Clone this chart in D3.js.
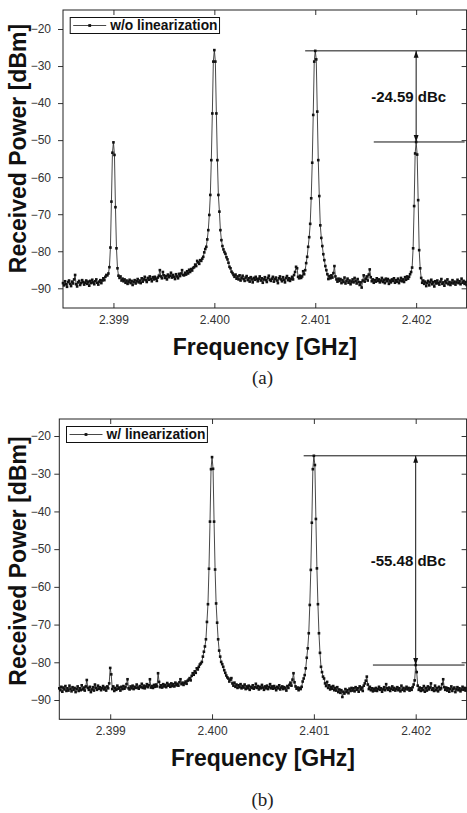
<!DOCTYPE html>
<html>
<head>
<meta charset="utf-8">
<script src="https://cdn.jsdelivr.net/npm/d3@7"></script>
<style>
  body { margin: 0; background: #fff; }
  text { font-family: 'Liberation Sans', Arial, sans-serif; }
</style>
</head>
<body>
<div id="chart"></div>
<script>
// sweep: 401 points, 10 kHz apart, starting at 2.3985 GHz
const freqStart = 2.3985;
const freqStep = 0.00001;

// received power [dBm], w/o linearization (panel a)
const powerWithout = [
  -88.6,-89.2,-88.1,-88.9,-89.6,-88.3,-87.9,-88.8,-89.4,-88.2,
  -88.7,-87.6,-86.4,-88.9,-89.5,-88.4,-88.0,-89.1,-88.6,-87.8,
  -88.3,-89.0,-88.5,-87.9,-88.8,-88.2,-89.3,-88.0,-88.6,-87.7,
  -88.4,-88.9,-88.1,-87.6,-88.5,-89.0,-88.2,-87.8,-88.6,-87.9,
  -87.3,-87.8,-86.9,-86.4,-86.5,-86.0,
  -84.3,-79.0,-66.6,-53.4,-50.6,-54.0,-68.1,-79.2,-84.6,-86.6,
  -87.2,-86.8,-87.9,-87.4,-88.1,-87.6,-88.5,-87.9,-88.8,-88.2,
  -87.7,-88.6,-88.0,-89.1,-88.3,-87.8,-88.7,-88.1,-87.5,-88.4,
  -87.9,-88.6,-87.3,-88.2,-87.6,-86.9,-87.8,-88.3,-87.2,-87.7,
  -86.8,-87.5,-88.1,-87.0,-87.6,-86.9,-87.4,-88.0,-87.1,-86.6,
  -85.1,-86.8,-87.3,-85.6,-86.5,-87.2,-86.7,-87.6,-86.3,-87.0,
  -86.6,-85.8,-87.1,-86.4,-86.9,-87.5,-86.2,-86.8,-87.3,-86.1,
  -86.7,-86.0,-85.1,-86.4,
  -86.5,-85.8,-86.3,-85.4,-86.0,-85.0,-85.6,-84.8,-85.2,-84.5,
  -84.3,-83.6,-84.0,-82.6,-83.0,-83.4,-82.4,-82.6,-82.0,-81.5,
  -80.3,-79.4,-78.8,-76.8,-74.3,-70.2,-64.8,-55.4,-42.8,-28.8,
  -25.7,
  -28.8,-42.8,-55.4,-64.8,-69.3,-74.3,-77.0,-78.6,-79.5,-80.2,
  -80.7,-81.6,-82.2,-83.1,-84.2,-84.6,-85.5,-85.9,-86.4,-86.9,
  -86.3,-87.4,-86.8,-87.6,-86.5,-87.9,-87.2,-86.6,-87.5,-88.0,
  -87.1,-86.7,-87.8,-87.3,-88.2,-87.0,-87.6,-88.4,-87.2,-87.7,
  -86.9,-87.5,-88.1,-87.4,-86.8,-87.9,-87.3,-88.5,-87.6,-87.0,
  -87.8,-88.3,-87.2,-86.6,-87.7,-88.0,-87.4,-86.9,-88.2,-87.5,
  -87.1,-87.9,-88.6,-87.3,-86.8,-87.6,-88.1,-87.0,-87.7,-88.4,
  -87.2,-86.7,-87.8,-87.3,-88.0,-87.5,-86.9,-87.6,-86.4,-85.6,
  -84.2,-84.6,-86.9,-87.3,-86.6,-87.2,
  -86.8,-85.4,-86.2,-85.1,-83.2,-81.5,-78.8,-76.2,-72.6,-65.7,-56.1,-43.2,-28.8,
  -25.9,
  -28.2,-42.3,-55.4,-65.1,-73.0,-76.4,-78.6,-80.8,-82.4,-84.0,-85.1,-86.2,-87.5,-86.7,
  -87.3,-86.5,-87.1,-85.9,-84.0,-86.8,-87.6,-88.2,-87.4,-88.0,
  -87.5,-88.6,-87.8,-88.3,-87.1,-88.7,-88.0,-87.4,-88.5,-87.9,
  -88.9,-88.2,-87.6,-88.4,-87.2,-88.0,-88.7,-87.5,-88.3,-89.1,
  -88.4,-89.8,-87.9,-86.5,-88.2,-87.4,-86.8,-87.9,-86.3,-84.9,
  -87.0,-88.1,-87.6,-88.5,-87.8,-88.2,-87.3,-88.0,-87.6,-88.4,
  -87.9,-87.2,-88.3,-87.7,-88.6,-87.4,-88.1,-87.5,-88.8,-87.9,
  -88.4,-87.6,-88.0,-87.3,-88.5,-87.8,-88.2,-87.4,-88.6,-87.9,
  -87.2,-88.1,-87.6,-88.3,-87.0,-87.7,-86.8,-87.4,-86.9,-86.2,
  -85.6,-84.4,-79.2,-67.8,-53.6,-50.5,-53.9,-66.2,-79.7,-84.6,-87.2,
  -88.5,-87.9,-88.8,-88.2,-89.4,-88.6,-88.0,-89.2,-88.4,-87.7,
  -88.9,-88.3,-89.5,-88.1,-88.7,-87.9,-88.6,-89.0,-88.2,-87.5,
  -88.8,-88.4,-89.3,-88.0,-88.6,-87.6,-88.9,-88.3,-89.1,-88.5,
  -87.8,-88.7,-88.2,-89.0,-88.4,-87.7,-88.6,-88.1,-88.9,-87.4,
  -88.5,-88.0,-88.8,-88.3,-89.1
];

// received power [dBm], w/ linearization (panel b)
const powerWith = [
  -86.9,-87.4,-86.5,-87.8,-86.7,-87.2,-86.3,-87.6,-86.9,-87.5,
  -86.2,-87.0,-87.7,-86.6,-87.3,-86.8,-87.9,-87.1,-86.4,-87.6,
  -86.9,-87.4,-86.1,-87.2,-86.7,-87.5,-86.4,-84.7,-86.8,-87.3,
  -86.5,-87.9,-87.2,-86.6,-87.5,-85.9,-86.8,-87.3,-86.2,-87.0,
  -86.6,-87.4,-86.9,-86.3,-87.2,-86.7,-87.5,-86.4,-86.9,-85.6,
  -81.5,-83.2,
  -87.1,-86.4,-87.6,-86.8,-87.3,-86.2,-87.0,-86.7,-87.5,-86.5,
  -87.1,-86.3,-87.0,-86.6,-85.8,-84.5,-86.9,-87.2,-86.4,-86.9,
  -86.2,-87.1,-86.5,-86.8,-85.9,-86.7,-87.0,-86.3,-86.6,-85.7,
  -86.8,-86.2,-86.9,-86.4,-85.8,-86.6,-86.1,-84.5,-86.7,-86.3,
  -86.8,-86.0,-86.5,-85.9,-86.4,-82.9,-85.2,-86.6,-86.1,-86.7,
  -85.8,-86.4,-86.0,-86.6,-85.5,-86.2,-85.9,-86.5,-85.6,-86.3,
  -85.8,-86.4,-85.4,-86.1,-85.7,-86.2,-85.3,-84.5,-85.8,-85.4,
  -86.0,-85.5,-85.1,-85.7,-84.9,-84.6,-84.2,-84.8,-83.6,-82.9,
  -83.3,-82.4,-82.8,-81.6,-81.9,-81.2,-80.6,-80.3,-79.9,
  -78.5,-77.2,-75.8,-73.9,-69.3,-64.6,-55.2,-42.7,-28.8,
  -25.6,
  -28.7,-42.7,-55.4,-64.4,-69.5,-73.9,-76.9,-78.5,-79.9,-80.5,
  -81.2,-82.1,-82.8,-83.5,-84.0,-84.3,-85.1,-84.6,-84.2,
  -85.6,-86.2,-85.4,-86.5,-85.9,-86.8,-86.1,-86.6,-85.8,-86.9,
  -86.3,-86.7,-85.9,-87.1,-86.4,-86.9,-86.2,-87.3,-86.5,-86.8,
  -86.1,-87.0,-86.6,-85.7,-86.8,-86.3,-87.2,-86.5,-86.9,-86.0,
  -86.7,-87.3,-86.4,-86.9,-86.2,-87.1,-86.6,-85.8,-86.9,-86.4,
  -87.0,-86.3,-86.8,-87.4,-86.5,-86.9,-86.1,-87.2,-86.7,-86.4,
  -87.1,-86.6,-86.9,-87.5,-86.3,-86.8,-86.0,-85.4,-86.2,-84.6,
  -82.9,-85.3,-86.4,-87.0,-86.7,-87.4,-86.8,-87.1,-86.5,-85.1,
  -84.3,-83.4,-81.6,-78.8,-76.3,-72.3,-64.8,-55.5,-43.0,-28.8,
  -25.25,
  -27.7,-42.0,-55.1,-64.6,-72.3,-77.5,-81.2,-82.6,-83.8,-84.3,
  -85.6,-86.3,-85.2,-86.8,-86.1,-87.2,-86.5,-87.0,-86.3,-87.4,
  -86.8,-87.5,-86.6,-87.9,-87.2,-88.1,-87.4,-89.2,-87.8,-88.3,
  -87.1,-87.9,-87.4,-88.2,-87.0,-87.6,-86.8,-87.5,-86.9,-87.7,
  -86.6,-87.3,-86.9,-87.8,-86.4,-87.2,-86.7,-87.6,-86.2,-85.6,
  -84.9,-83.8,-85.9,-87.1,-86.5,-87.4,-86.9,-87.7,-87.0,-87.5,
  -86.8,-87.6,-87.1,-86.5,-87.3,-86.9,-87.8,-87.2,-86.6,-87.4,
  -85.8,-86.9,-87.3,-86.7,-87.6,-87.0,-86.4,-87.3,-86.8,-87.5,
  -87.1,-86.6,-87.4,-86.9,-87.7,-86.2,-87.3,-86.8,-87.6,-87.0,
  -86.5,-87.2,-86.8,-87.5,-86.9,-87.3,-86.6,-85.9,-84.8,
  -80.73,
  -82.6,-86.2,-87.3,-86.7,-87.6,-86.9,-87.4,-86.3,-87.8,-86.8,
  -87.5,-86.4,-87.2,-86.7,-85.6,-87.3,-86.9,-87.6,-86.2,-87.4,
  -86.8,-87.7,-86.5,-87.2,-86.9,-85.8,-84.5,-86.6,-87.3,-86.7,
  -87.5,-86.9,-87.8,-87.1,-86.4,-87.6,-87.0,-86.7,-87.9,-87.2,
  -86.6,-87.4,-86.9,-87.7,-87.2,-86.5,-87.3,-86.8,-87.5,-86.9
];

const xTicks = [2.399, 2.400, 2.401, 2.402];
const yTicks = [-20, -30, -40, -50, -60, -70, -80, -90];
const legendLabels = ['w/o linearization', 'w/ linearization'];
const captions = ['(a)', '(b)'];
const dbcLabels = ['-24.59 dBc', '-55.48 dBc'];
// carrier at 2.401 GHz, spur at 2.402 GHz
const carrierFreq = 2.401;
const spurFreq = 2.402;

const width = 467, height = 813;

const svg = d3.select('#chart').append('svg')
    .attr('width', width)
    .attr('height', height);

const defs = svg.append('defs');
defs.append('marker')
    .attr('id', 'arrow')
    .attr('viewBox', '0 0 10 10')
    .attr('refX', 10).attr('refY', 5)
    .attr('markerWidth', 7).attr('markerHeight', 7)
    .attr('markerUnits', 'userSpaceOnUse')
    .attr('orient', 'auto-start-reverse')
  .append('path')
    .attr('d', 'M0,1.5 L10,5 L0,8.5 Z')
    .attr('fill', '#111');

const panels = [
    { series: powerWithout, legend: legendLabels[0], caption: captions[0], dbc: dbcLabels[0],
      left: 63, right: 466.6, top: 10, bottom: 308, y20: 29, y90: 288.3,
      xTitleY: 354.5, yTitleCy: 148.5, captionY: 384 },
    { series: powerWith, legend: legendLabels[1], caption: captions[1], dbc: dbcLabels[1],
      left: 59.3, right: 466.6, top: 419, bottom: 719.3, y20: 436, y90: 700,
      xTitleY: 766, yTitleCy: 561, captionY: 806 }
];

panels.forEach(function(p) {
    var g = svg.append('g');
    var n = p.series.length;
    var data = p.series.map((v, i) => ({ f: freqStart + i * freqStep, v: v }));

    var x = d3.scaleLinear()
        .domain([freqStart, freqStart + (n - 1) * freqStep])
        .range([p.left, p.right]);
    var y = d3.scaleLinear()
        .domain([-90, -20])
        .range([p.y90, p.y20]);

    // axes: ticks point inward except on the left side
    var axisStyle = function(sel) {
        sel.select('.domain').remove();
        sel.selectAll('.tick line').attr('stroke', '#333');
        sel.selectAll('.tick text')
            .attr('fill', '#333')
            .style('font-size', '12px')
            .style('font-family', "'Liberation Sans', Arial, sans-serif");
    };

    g.append('g')
        .attr('transform', `translate(0,${p.bottom})`)
        .call(d3.axisBottom(x).tickValues(xTicks).tickFormat(d3.format('.3f')).tickSize(-5).tickPadding(7.5))
        .call(axisStyle);
    g.append('g')
        .attr('transform', `translate(0,${p.top})`)
        .call(d3.axisTop(x).tickValues(xTicks).tickFormat('').tickSize(-5))
        .call(axisStyle);
    g.append('g')
        .attr('transform', `translate(${p.left},0)`)
        .call(d3.axisLeft(y).tickValues(yTicks).tickSize(5).tickPadding(p.left - 51 - 5))
        .call(axisStyle);
    g.append('g')
        .attr('transform', `translate(${p.right},0)`)
        .call(d3.axisRight(y).tickValues(yTicks).tickFormat('').tickSize(-5))
        .call(axisStyle);

    // frame
    g.append('rect')
        .attr('x', p.left).attr('y', p.top)
        .attr('width', p.right - p.left).attr('height', p.bottom - p.top)
        .attr('fill', 'none')
        .attr('stroke', '#222')
        .attr('stroke-width', 1);

    // trace
    var line = d3.line().x(d => x(d.f)).y(d => y(d.v));
    g.append('path')
        .datum(data)
        .attr('d', line)
        .attr('fill', 'none')
        .attr('stroke', '#333')
        .attr('stroke-width', 0.9);
    g.selectAll('rect.pt')
        .data(data)
        .enter().append('rect')
        .attr('class', 'pt')
        .attr('x', d => x(d.f) - 1.3)
        .attr('y', d => y(d.v) - 1.3)
        .attr('width', 2.6).attr('height', 2.6)
        .attr('fill', '#111');

    // dBc annotation
    var carrier = p.series[Math.round((carrierFreq - freqStart) / freqStep)];
    var spur = p.series[Math.round((spurFreq - freqStart) / freqStep)];
    var ax = x(spurFreq);
    g.append('line')
        .attr('x1', x(2.40090)).attr('x2', p.right)
        .attr('y1', y(carrier)).attr('y2', y(carrier))
        .attr('stroke', '#111').attr('stroke-width', 1);
    g.append('line')
        .attr('x1', x(2.40158)).attr('x2', p.right - 2)
        .attr('y1', y(spur)).attr('y2', y(spur))
        .attr('stroke', '#111').attr('stroke-width', 1);
    g.append('line')
        .attr('x1', ax).attr('x2', ax)
        .attr('y1', y(spur)).attr('y2', y(carrier))
        .attr('stroke', '#111').attr('stroke-width', 1)
        .attr('marker-start', 'url(#arrow)')
        .attr('marker-end', 'url(#arrow)');
    g.append('text')
        .attr('x', ax - 45)
        .attr('y', (y(spur) + y(carrier)) / 2)
        .attr('dy', '0.35em')
        .style('font-size', '15px')
        .style('font-weight', 'bold')
        .attr('fill', '#111')
        .text(p.dbc);

    // legend
    var lx = p.left + 7.2, ly = p.top + 7.5;
    var lg = g.append('g');
    var lbox = lg.append('rect')
        .attr('x', lx).attr('y', ly)
        .attr('height', 16)
        .attr('fill', '#fff')
        .attr('stroke', '#111').attr('stroke-width', 1);
    lg.append('line')
        .attr('x1', lx + 3).attr('x2', lx + 36)
        .attr('y1', ly + 8).attr('y2', ly + 8)
        .attr('stroke', '#333').attr('stroke-width', 0.9);
    lg.append('rect')
        .attr('x', lx + 19.5 - 1.4).attr('y', ly + 8 - 1.4)
        .attr('width', 2.8).attr('height', 2.8)
        .attr('fill', '#111');
    var lt = lg.append('text')
        .attr('x', lx + 40).attr('y', ly + 12.8)
        .style('font-size', '13.8px')
        .style('font-weight', 'bold')
        .attr('fill', '#111')
        .text(p.legend);
    lbox.attr('width', 40 + lt.node().getComputedTextLength() + 2);

    // axis titles
    g.append('text')
        .attr('x', (p.left + p.right) / 2)
        .attr('y', p.xTitleY)
        .attr('text-anchor', 'middle')
        .style('font-size', '23px')
        .style('font-weight', 'bold')
        .attr('fill', '#111')
        .text('Frequency [GHz]');
    g.append('text')
        .attr('transform', `translate(26,${p.yTitleCy}) rotate(-90)`)
        .attr('text-anchor', 'middle')
        .style('font-size', '23px')
        .style('font-weight', 'bold')
        .attr('fill', '#111')
        .text('Received Power [dBm]');

    // caption
    g.append('text')
        .attr('x', 262.5)
        .attr('y', p.captionY)
        .attr('text-anchor', 'middle')
        .style('font-family', "'Liberation Serif', 'DejaVu Serif', serif")
        .style('font-size', '19px')
        .attr('fill', '#222')
        .text(p.caption);
});
</script>
</body>
</html>
